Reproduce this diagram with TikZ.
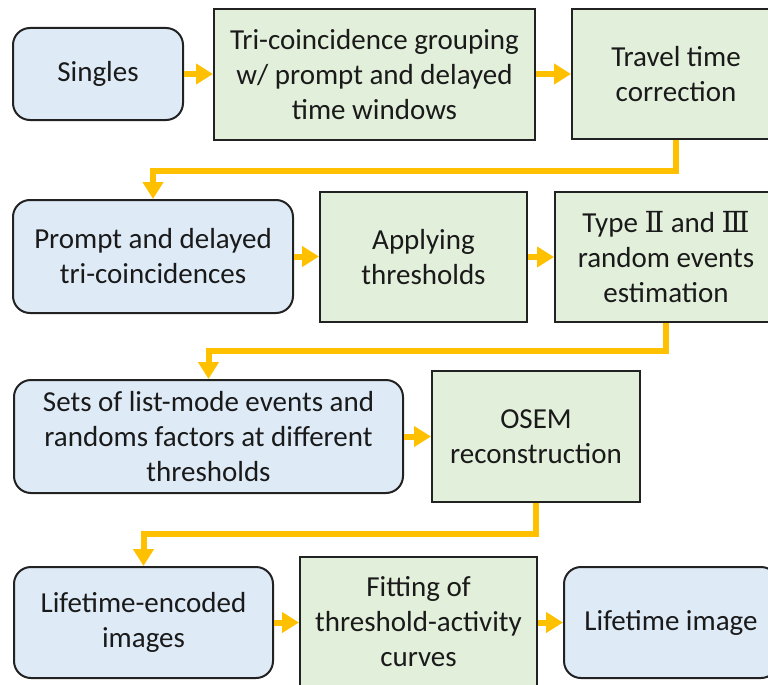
\documentclass[tikz,border=0pt]{standalone}
\usepackage{fontspec}
\setmainfont{Carlito}
\newfontfamily\numfont{DejaVu Serif}
\usetikzlibrary{arrows.meta}
\definecolor{bluefill}{HTML}{DEEBF7}
\definecolor{greenfill}{HTML}{E2EFDA}
\definecolor{arrowc}{HTML}{FFC000}
\definecolor{edgec}{HTML}{222222}
\definecolor{textc}{HTML}{1A1A1A}
\begin{document}
\begin{tikzpicture}[x=1pt,y=-1pt,
  box/.style={draw=edgec, line width=2pt, align=center, inner sep=0pt,
    font=\fontsize{29}{35}\selectfont, text=textc},
  bluebox/.style={box, fill=bluefill, rounded corners=17pt},
  greenbox/.style={box, fill=greenfill},
  flow/.style={draw=arrowc, line width=6pt, line join=miter,
    -{Triangle[width=20pt,length=17pt]}}]
\useasboundingbox[fill=white] (0,0) rectangle (768,685);
% row 1
\node[bluebox, minimum width=170pt, minimum height=92pt] (singles) at (98,74) {Singles};
\node[greenbox, minimum width=321pt, minimum height=131pt] (tri) at (374.5,74.5) {Tri-coincidence grouping\\w/ prompt and delayed\\time windows};
\node[greenbox, minimum width=208pt, minimum height=130pt] (travel) at (676,74) {Travel time\\correction};
% row 2
\node[bluebox, minimum width=280pt, minimum height=113pt] (prompt) at (153,256.5) {Prompt and delayed\\tri-coincidences};
\node[greenbox, minimum width=207pt, minimum height=130pt] (applying) at (423.5,257) {Applying\\thresholds};
\node[greenbox, minimum width=222pt, minimum height=130pt] (type) at (666,257) {Type {\numfont Ⅱ} and {\numfont Ⅲ}\\random events\\estimation};
% row 3
\node[bluebox, minimum width=389pt, minimum height=113pt] (sets) at (208.5,436.5) {Sets of list-mode events and\\randoms factors at different\\thresholds};
\node[greenbox, minimum width=208pt, minimum height=131pt] (osem) at (536,436.5) {OSEM\\reconstruction};
% row 4
\node[bluebox, minimum width=259pt, minimum height=111pt] (lenc) at (143.5,622.5) {Lifetime-encoded\\images};
\node[greenbox, minimum width=237pt, minimum height=130pt] (fitting) at (418.5,622) {Fitting of\\threshold-activity\\curves};
\node[bluebox, minimum width=214pt, minimum height=111pt] (limg) at (671,622.5) {Lifetime image};
% connectors
\draw[flow] (singles.east) -- (singles.east -| tri.west);
\draw[flow] (tri.east |- singles.east) -- (travel.west |- singles.east);
\draw[flow] (travel.south) -- ++(0,31) -| (prompt.north);
\draw[flow] (prompt.east) -- (prompt.east -| applying.west);
\draw[flow] (applying.east) -- (type.west);
\draw[flow] (type.south) -- ++(0,28) -| (sets.north);
\draw[flow] (sets.east) -- (sets.east -| osem.west);
\draw[flow] (osem.south) -- ++(0,31) -| (lenc.north);
\draw[flow] (lenc.east) -- (lenc.east -| fitting.west);
\draw[flow] (fitting.east |- limg.west) -- (limg.west);
\end{tikzpicture}
\end{document}
